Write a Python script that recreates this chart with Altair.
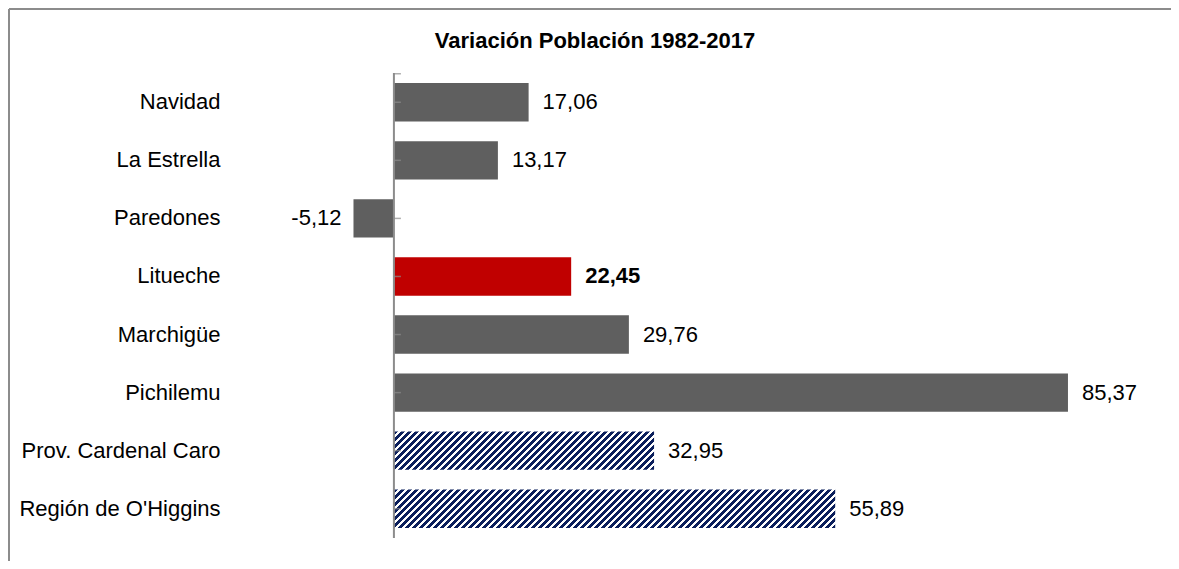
import altair as alt
import pandas as pd

categories = ["Navidad", "La Estrella", "Paredones", "Litueche", "Marchigüe",
              "Pichilemu", "Prov. Cardenal Caro", "Región de O'Higgins"]
values = [17.06, 13.17, -5.12, 22.45, 29.76, 85.37, 32.95, 55.89]
kinds = ["gris", "gris", "gris", "rojo", "gris", "gris", "rayado", "rayado"]
title_text = "Variación Población 1982-2017"

FONT = "Liberation Sans Narrow, Arial Narrow, Liberation Sans, Arial"
FS = 22
W, H = 908, 465
XDOM = [-20, 95]
PX_PER_UNIT = W / (XDOM[1] - XDOM[0])
STEP = H / (8 - 0.34 + 2 * 0.174)
BANDW = STEP * (1 - 0.34)

df = pd.DataFrame({
    "cat": categories,
    "val": values,
    "kind": kinds,
    "label": [f"{v:.2f}".replace(".", ",") for v in values],
    "zero": [0.0] * len(values),
})

xs = alt.Scale(domain=XDOM, nice=False, zero=False)
x = alt.X("val:Q", scale=xs, axis=None)
x0 = alt.X("zero:Q", scale=xs, axis=None)
y = alt.Y("cat:N", sort=categories,
          scale=alt.Scale(paddingInner=0.34, paddingOuter=0.174),
          axis=alt.Axis(title=None, domain=False, ticks=False, labelPadding=16,
                        labelFont=FONT, labelFontSize=FS, labelColor="#000000",
                        labelLimit=400))

base = alt.Chart(df)
one = base.transform_filter(alt.datum.cat == categories[0])

solid = base.transform_filter(alt.datum.kind != "rayado").mark_bar().encode(
    x=x, x2="zero:Q", y=y,
    color=alt.Color("kind:N", scale=alt.Scale(domain=["gris", "rojo"],
                                              range=["#5F5F5F", "#C00000"]),
                    legend=None),
)


def hatch(w, h, period=7.0, dark=0.6):
    k = (1 + h / w) / (1 + (h / w) ** 2)
    p = period / (w + h)
    stops = []
    i = 0
    while i * p < 1:
        a = i * p
        b = min(1.0, a + dark * p)
        c = min(1.0, a + p)
        stops += [
            alt.GradientStop(offset=round(a, 5), color="#0B1F5C"),
            alt.GradientStop(offset=round(b, 5), color="#0B1F5C"),
            alt.GradientStop(offset=round(b, 5), color="#FFFFFF"),
            alt.GradientStop(offset=round(c, 5), color="#FFFFFF"),
        ]
        i += 1
    return alt.LinearGradient(gradient="linear", x1=0, y1=0, x2=round(k, 5),
                              y2=round(k * h / w, 5), stops=stops)


hatched_layers = []
for c, v, kd in zip(categories, values, kinds):
    if kd == "rayado":
        wpx = abs(v) * PX_PER_UNIT
        hatched_layers.append(
            base.transform_filter(alt.datum.cat == c)
            .mark_bar(color=hatch(wpx, BANDW))
            .encode(x=x, x2="zero:Q", y=y)
        )

txt_pos = base.transform_filter(
    (alt.datum.val >= 0) & (alt.datum.kind != "rojo")
).mark_text(align="left", baseline="middle", dx=14, font=FONT, fontSize=FS,
            color="#000000").encode(x=x, y=y, text="label:N")

txt_bold = base.transform_filter(alt.datum.kind == "rojo").mark_text(
    align="left", baseline="middle", dx=14, font=FONT, fontSize=FS,
    fontWeight="bold", color="#000000").encode(x=x, y=y, text="label:N")

txt_neg = base.transform_filter(alt.datum.val < 0).mark_text(
    align="right", baseline="middle", dx=-12, font=FONT, fontSize=FS,
    color="#000000").encode(x=x, y=y, text="label:N")

axis_line = one.mark_rule(color="#8C8C8C", strokeWidth=2).encode(
    x=x0, y=alt.value(0), y2=alt.value(H))

axis_ticks = base.mark_tick(orient="horizontal", size=7, thickness=1.5,
                            color="#8C8C8C", xOffset=3.5).encode(x=x0, y=y)

top_tick = one.mark_tick(orient="horizontal", size=7, thickness=1.5,
                         color="#8C8C8C", xOffset=3.5).encode(
    x=x0, y=alt.value(0.75))

frame_top = one.mark_rule(color="#8C8C8C", strokeWidth=2).encode(
    x=alt.value(-227), x2=alt.value(W + 30), y=alt.value(-64))
frame_left = one.mark_rule(color="#8C8C8C", strokeWidth=2).encode(
    x=alt.value(-227), y=alt.value(-64), y2=alt.value(H + 30))

chart = alt.layer(
    frame_top, frame_left, solid, *hatched_layers, axis_line, axis_ticks,
    top_tick, txt_pos, txt_bold, txt_neg
).properties(
    width=W, height=H,
    title=alt.TitleParams(title_text, font=FONT, fontSize=FS, fontWeight="bold",
                          color="#000000", anchor="middle", frame="group",
                          dx=-95, dy=45, offset=0),
    padding={"left": 228, "top": 65, "right": 27, "bottom": 23},
    autosize=alt.AutoSizeParams(type="none"),
).configure_view(stroke=None)

chart.save("out.html", embed_options={"renderer": "svg", "actions": False})
